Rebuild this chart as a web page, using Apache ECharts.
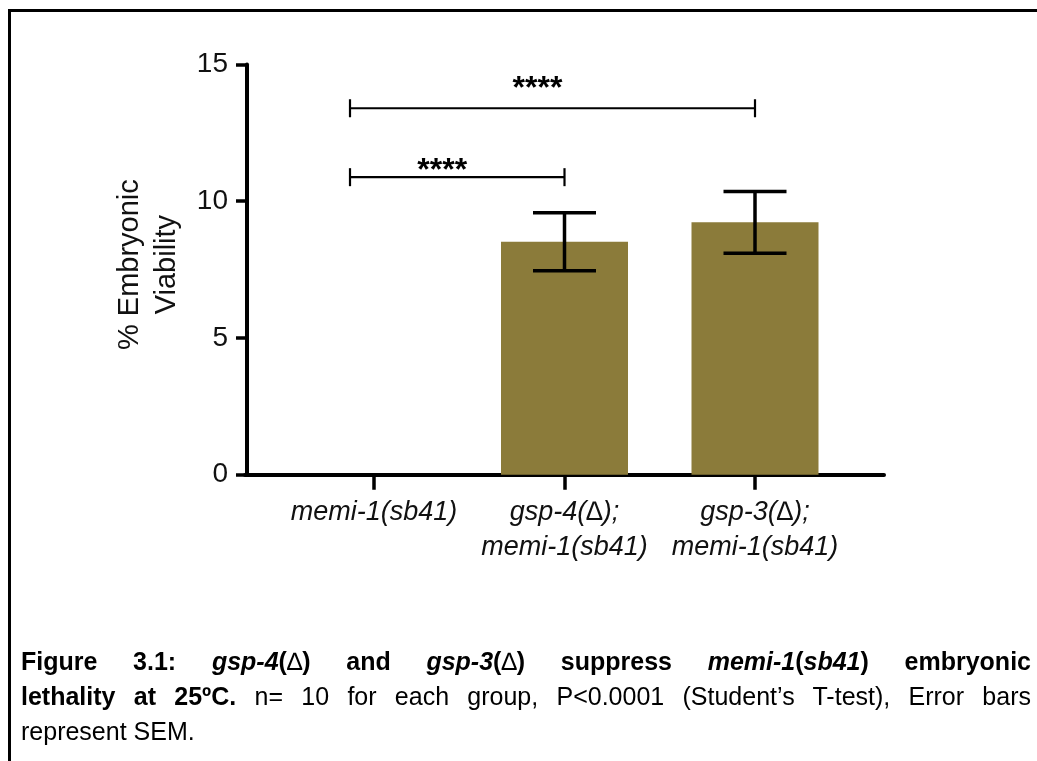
<!DOCTYPE html>
<html>
<head>
<meta charset="utf-8">
<script src="https://cdn.jsdelivr.net/npm/echarts@6/dist/echarts.min.js"></script>
<style>
  html, body { margin: 0; padding: 0; background: #fff; }
  #frame {
    position: absolute; left: 8px; top: 9px; right: 0; bottom: 0;
    border-top: 3px solid #000; border-left: 3px solid #000;
  }
  #chart { position: absolute; left: 0; top: 0; width: 1037px; height: 761px; }
  #caption {
    position: absolute; left: 21px; top: 644px; width: 1010px;
    font-family: Arial, 'Liberation Sans', sans-serif;
    font-size: 25px; line-height: 35px; color: #000;
  }
  #caption div { text-align: justify; text-align-last: justify; white-space: nowrap; }
  #caption div.last { text-align-last: left; }
  #caption .d { font-weight: normal; }
</style>
</head>
<body>
<div id="frame"></div>
<div id="chart"></div>
<div id="caption">
  <div><b>Figure 3.1: <i>gsp-4</i>(<span class="d">∆</span>) and <i>gsp-3</i>(<span class="d">∆</span>) suppress <i>memi-1</i>(<i>sb41</i>) embryonic</b></div>
  <div><b>lethality at 25ºC.</b> n= 10 for each group, P&lt;0.0001 (Student’s T-test), Error bars</div>
  <div class="last">represent SEM.</div>
</div>
<script>
// 数据
const groups = ['memi-1(sb41)', 'gsp-4(∆);\nmemi-1(sb41)', 'gsp-3(∆);\nmemi-1(sb41)'];
const viability = [0, 8.52, 9.23];
const sem = [0, 1.06, 1.13];
// 显著性比较: 组索引对, 括号高度, 星号高度
const comparisons = [[0, 2], [0, 1]];
const bracketLevel = [13.4, 10.88];
const starLevel = [14.4, 11.4];
const starText = ['****', '****'];

const font = "Arial, 'Liberation Sans', sans-serif";
const chart = echarts.init(document.getElementById('chart'));

// 误差线数据 (SEM 为 0 的组不画)
const errorData = groups
  .map((g, i) => [i, viability[i] - sem[i], viability[i] + sem[i]])
  .filter((d, i) => sem[i] > 0);

const bracketData = comparisons.map((c, k) => [c[0], c[1], bracketLevel[k], starLevel[k], k]);

const option = {
  animation: false,
  textStyle: { fontFamily: font },
  grid: [
    { left: 278.75, right: 186.75, top: 64.5, bottom: 286.3, containLabel: false },
    { left: 245, right: 153, top: 64.5, bottom: 286.3, containLabel: false }
  ],
  xAxis: [
    {
      gridIndex: 0,
      type: 'category',
      data: groups,
      axisLine: { show: false },
      axisTick: { show: true, alignWithLabel: true, length: 15, lineStyle: { width: 3.5, color: '#000' } },
      axisLabel: { interval: 0, fontSize: 27, fontStyle: 'italic', color: '#111', lineHeight: 35, margin: 20, fontFamily: font },
      splitLine: { show: false }
    },
    {
      gridIndex: 1,
      type: 'value',
      min: 0,
      max: 1,
      axisLine: { show: true, lineStyle: { width: 4, color: '#000' } },
      axisTick: { show: false },
      axisLabel: { show: false },
      splitLine: { show: false }
    }
  ],
  yAxis: [
    {
      gridIndex: 0,
      type: 'value',
      min: 0,
      max: 15,
      interval: 5,
      offset: 31.75,
      name: '% Embryonic\nViability',
      nameLocation: 'middle',
      nameGap: 61,
      nameTextStyle: { fontSize: 29, lineHeight: 37, color: '#111', fontFamily: font, padding: [0, 0, 0, 10] },
      axisLine: { show: true, lineStyle: { width: 4, color: '#000' } },
      axisTick: { show: true, length: 11, lineStyle: { width: 3.5, color: '#000' } },
      axisLabel: { fontSize: 28, color: '#111', margin: 19, fontFamily: font },
      splitLine: { show: false }
    },
    { gridIndex: 1, type: 'value', min: 0, max: 15, show: false }
  ],
  series: [
    {
      name: 'viability',
      type: 'bar',
      xAxisIndex: 0,
      yAxisIndex: 0,
      data: viability,
      barWidth: 127,
      itemStyle: { color: '#8b7b3a' },
      z: 2
    },
    {
      // 误差线
      type: 'custom',
      xAxisIndex: 0,
      yAxisIndex: 0,
      data: errorData,
      z: 5,
      renderItem(params, api) {
        const x = api.value(0);
        const lo = api.coord([x, api.value(1)]);
        const hi = api.coord([x, api.value(2)]);
        const half = 31.5;
        const style = { stroke: '#000', lineWidth: 3.5 };
        return {
          type: 'group',
          children: [
            { type: 'line', shape: { x1: lo[0], y1: hi[1], x2: lo[0], y2: lo[1] }, style },
            { type: 'line', shape: { x1: lo[0] - half, y1: hi[1], x2: lo[0] + half, y2: hi[1] }, style },
            { type: 'line', shape: { x1: lo[0] - half, y1: lo[1], x2: lo[0] + half, y2: lo[1] }, style }
          ]
        };
      }
    },
    {
      // 显著性括号
      type: 'custom',
      xAxisIndex: 0,
      yAxisIndex: 0,
      data: bracketData,
      z: 5,
      renderItem(params, api) {
        const a = api.coord([api.value(0), api.value(2)]);
        const b = api.coord([api.value(1), api.value(2)]);
        const s = api.coord([api.value(0), api.value(3)]);
        const left = a[0] - 24;
        const right = b[0];
        const y = a[1];
        const style = { stroke: '#000', lineWidth: 2.2 };
        return {
          type: 'group',
          children: [
            { type: 'line', shape: { x1: left, y1: y, x2: right, y2: y }, style },
            { type: 'line', shape: { x1: left, y1: y - 9, x2: left, y2: y + 9 }, style },
            { type: 'line', shape: { x1: right, y1: y - 9, x2: right, y2: y + 9 }, style },
            {
              type: 'text',
              x: (left + right) / 2 - 15,
              y: s[1] + 8,
              style: {
                text: starText[api.value(4)],
                fontSize: 32,
                fontWeight: 'bold',
                fontFamily: font,
                align: 'center',
                verticalAlign: 'middle',
                fill: '#000'
              }
            }
          ]
        };
      }
    }
  ]
};

chart.setOption(option);
</script>
</body>
</html>
